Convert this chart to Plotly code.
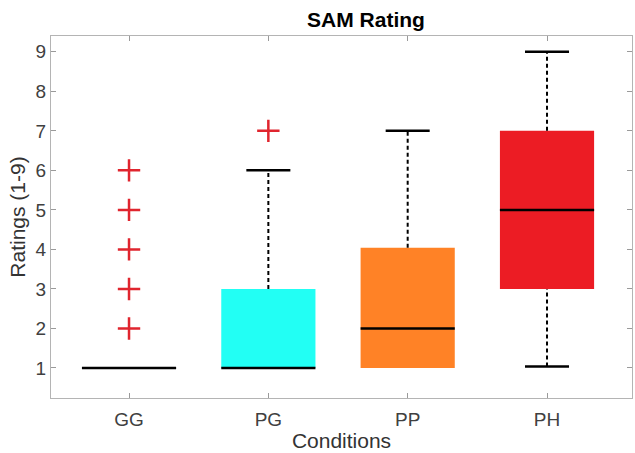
import plotly.graph_objects as go

# ---- data ----
categories = ["GG", "PG", "PP", "PH"]
lower_whisker = [1, 1, 1, 1.04]
q1 = [1, 1, 1, 3]
median = [1, 1, 2, 5]
q3 = [1, 3, 4.04, 7]
upper_whisker = [1, 6, 7, 9]
outliers = {"GG": [2, 3, 4, 5, 6], "PG": [7], "PP": [], "PH": []}
y_ticks = [1, 2, 3, 4, 5, 6, 7, 8, 9]

# ---- style ----
box_colors = ["#22FFF4", "#22FFF4", "#FF8226", "#EC1C24"]
half_w = 0.338
cap_half = 0.158
outlier_color = "#E0252E"
FONT = "Liberation Sans, Arial"

fig = go.Figure()
xs = list(range(1, len(categories) + 1))

for i, cat in enumerate(categories):
    x = xs[i]
    # box
    if q3[i] > q1[i]:
        fig.add_trace(go.Scatter(
            x=[x - half_w, x + half_w, x + half_w, x - half_w, x - half_w],
            y=[q1[i], q1[i], q3[i], q3[i], q1[i]],
            fill="toself", fillcolor=box_colors[i], mode="lines",
            line=dict(width=0, color=box_colors[i]), hoverinfo="skip", showlegend=False))
    # whiskers
    if upper_whisker[i] > q3[i]:
        fig.add_trace(go.Scatter(x=[x, x], y=[q3[i], upper_whisker[i]], mode="lines",
                                 line=dict(color="black", width=2, dash="4px,3px"),
                                 showlegend=False, hoverinfo="skip"))
        fig.add_trace(go.Scatter(x=[x - cap_half, x + cap_half], y=[upper_whisker[i]] * 2, mode="lines",
                                 line=dict(color="black", width=2.5), showlegend=False, hoverinfo="skip"))
    if lower_whisker[i] < q1[i]:
        fig.add_trace(go.Scatter(x=[x, x], y=[lower_whisker[i], q1[i]], mode="lines",
                                 line=dict(color="black", width=2, dash="4px,3px"),
                                 showlegend=False, hoverinfo="skip"))
        fig.add_trace(go.Scatter(x=[x - cap_half, x + cap_half], y=[lower_whisker[i]] * 2, mode="lines",
                                 line=dict(color="black", width=2.5), showlegend=False, hoverinfo="skip"))
    # median
    fig.add_trace(go.Scatter(x=[x - half_w, x + half_w], y=[median[i]] * 2, mode="lines",
                             line=dict(color="black", width=2.5), showlegend=False, hoverinfo="skip"))
    # outliers
    if outliers[cat]:
        fig.add_trace(go.Scatter(x=[x] * len(outliers[cat]), y=outliers[cat], mode="markers",
                                 marker=dict(symbol="cross-thin", size=16,
                                             line=dict(color=outlier_color, width=2.5)),
                                 showlegend=False, hoverinfo="skip"))

axis_common = dict(showgrid=False, zeroline=False, showline=True, linecolor="#b4b4b4", linewidth=1.2,
                   mirror="ticks", ticks="inside", ticklen=5, tickcolor="#9a9a9a", tickwidth=1,
                   tickfont=dict(family=FONT, size=19, color="#404040"))

fig.update_layout(
    width=635, height=453,
    margin=dict(l=51, r=3, t=36, b=55),
    paper_bgcolor="white", plot_bgcolor="white",
    title=dict(text="<b>SAM Rating</b>", x=366 / 635, xanchor="center", y=1 - 20 / 453,
               yanchor="middle", font=dict(family=FONT, size=21, color="black")),
    xaxis=dict(range=[0.44, 4.61], tickvals=xs, ticktext=categories, ticklabelstandoff=4,
               title=dict(text="Conditions", standoff=4,
                          font=dict(family=FONT, size=21, color="#333333")),
               **axis_common),
    yaxis=dict(range=[0.24, 9.4], tickvals=y_ticks,
               title=dict(text="Ratings (1-9)", standoff=4,
                          font=dict(family=FONT, size=21, color="#333333")),
               **axis_common),
)

fig.write_html("out.html", config={"displayModeBar": False},
               post_script="document.body.style.margin='0';document.body.style.overflow='hidden';")
